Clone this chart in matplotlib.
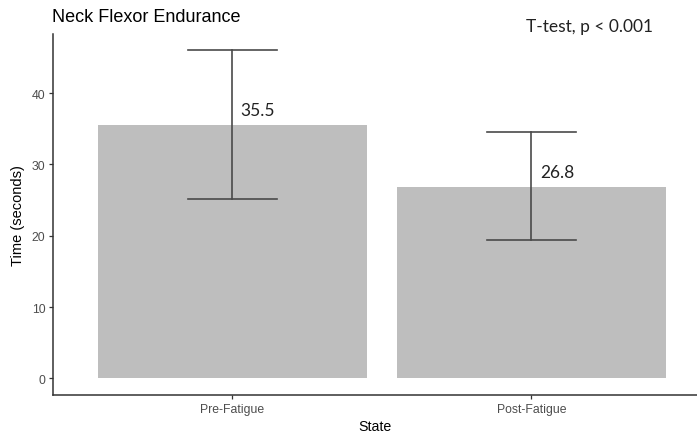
import matplotlib
matplotlib.use("Agg")
import matplotlib.pyplot as plt

# data
states = ["Pre-Fatigue", "Post-Fatigue"]
means = [35.5, 26.8]
err_low = [25.2, 19.4]
err_high = [46.0, 34.5]
mean_labels = ["35.5", "26.8"]
y_ticks = [0, 10, 20, 30, 40]

plt.rcParams['font.family'] = ['Liberation Sans', 'DejaVu Sans']

fig = plt.figure(figsize=(6.97, 4.35), dpi=100)
ax = fig.add_axes([53/697, 39/435, 1 - 53/697, 361/435])

x = list(range(1, len(states) + 1))
ax.bar(x, means, width=0.9, color='#bebebe', zorder=1)

# error bars with caps (ggplot style)
cap = 0.15
for xi, lo, hi in zip(x, err_low, err_high):
    ax.plot([xi, xi], [lo, hi], color='#4a4a4a', lw=1.2, zorder=3)
    ax.plot([xi - cap, xi + cap], [lo, lo], color='#4a4a4a', lw=1.2, zorder=3)
    ax.plot([xi - cap, xi + cap], [hi, hi], color='#4a4a4a', lw=1.2, zorder=3)

for xi, m, lab in zip(x, means, mean_labels):
    ax.text(xi + 0.028, m + 2.2, lab, ha='left', va='center', fontsize=12.5,
            family=['Lato', 'DejaVu Sans'], color='#222222', zorder=4)

ax.set_xlim(0.4, 0.4 + 644/299)
ax.set_ylim(-2.34, 48.3)
ax.set_xticks(x)
ax.set_xticklabels(states)
ax.set_yticks(y_ticks)

for s in ['top', 'right']:
    ax.spines[s].set_visible(False)
for s in ['left', 'bottom']:
    ax.spines[s].set_color('#333333')
    ax.spines[s].set_linewidth(1.1)
ax.tick_params(axis='both', length=3, width=0.9, color='#333333',
               labelcolor='#4d4d4d', labelsize=8.8, pad=2.5)

ax.set_xlabel("State", fontsize=10.2, color='black', labelpad=3)
ax.set_ylabel("Time (seconds)", fontsize=10.5, color='black', labelpad=5)

fig.text(52/697, 1 - 17/435, "Neck Flexor Endurance", fontsize=13, ha='left', va='center', color='black')
fig.text(526/697, 1 - 27/435, "T-test, p < 0.001", fontsize=12.5, ha='left', va='center',
         family=['Lato', 'DejaVu Sans'], color='#222222')

fig.savefig("out.png", dpi=100)
